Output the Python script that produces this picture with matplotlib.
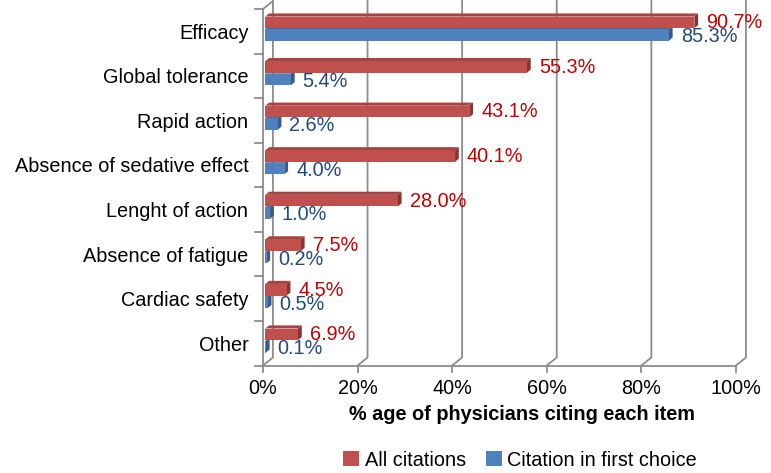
import matplotlib.pyplot as plt
from matplotlib.patches import Polygon, Rectangle

plt.rcParams['font.family'] = ['Liberation Sans', 'DejaVu Sans']

# data
categories = ['Efficacy', 'Global tolerance', 'Rapid action', 'Absence of sedative effect',
              'Lenght of action', 'Absence of fatigue', 'Cardiac safety', 'Other']
all_citations = [90.7, 55.3, 43.1, 40.1, 28.0, 7.5, 4.5, 6.9]
first_choice = [85.3, 5.4, 2.6, 4.0, 1.0, 0.2, 0.5, 0.1]
x_ticks = [0, 20, 40, 60, 80, 100]

red_front, red_top, red_side = '#C0504D', '#A54341', '#8A3432'
blue_front, blue_top, blue_side = '#4F81BD', '#3E6A9E', '#355C8C'
red_text, blue_text = '#C00000', '#1F497D'
grid_col = '#8C8C8C'
fs = 14.3

fig = plt.figure(figsize=(7.71, 4.73), dpi=100)
ax = fig.add_axes([263 / 771, 1 - 365.5 / 473, 473 / 771, 356.5 / 473])
ax.set_xlim(0, 100)
ax.set_ylim(7.5, -0.5)
for s in ax.spines.values():
    s.set_visible(False)

# 3D walls: offset of back wall
dx, dy = 2.1, 0.18

# back gridlines + floor diagonals
for t in x_ticks:
    ax.plot([t, t + dx, t + dx], [7.5, 7.5 - dy, -0.5 - dy], color=grid_col, lw=1.3,
            clip_on=False, zorder=1)
    ax.plot([t, t], [7.5, 7.65], color=grid_col, lw=1.3, clip_on=False, zorder=1)
# front left edge and bottom edge
ax.plot([0, 0, dx], [7.5, -0.5, -0.5 - dy], color=grid_col, lw=1.3, clip_on=False, zorder=1)
ax.plot([0, 100], [7.5, 7.5], color=grid_col, lw=1.3, clip_on=False, zorder=1)
for k in range(9):
    ax.plot([-1.6, 0], [k - 0.5, k - 0.5], color=grid_col, lw=1.3, clip_on=False, zorder=1)


def bar3d(yc, val, front, top, side, z):
    h = 0.26
    s0, ddx, ddy = 0.5, 0.8, 0.07
    y0, y1 = yc - h / 2, yc + h / 2
    x1 = s0 + val
    ax.add_patch(Polygon([(s0, y0), (x1, y0), (x1 + ddx, y0 - ddy), (s0 + ddx, y0 - ddy)],
                         closed=True, fc=top, ec='none', zorder=z, clip_on=False))
    ax.add_patch(Polygon([(x1, y0), (x1 + ddx, y0 - ddy), (x1 + ddx, y1 - ddy), (x1, y1)],
                         closed=True, fc=side, ec='none', zorder=z, clip_on=False))
    ax.add_patch(Rectangle((s0, y0), val, h, fc=front, ec='none', zorder=z, clip_on=False))


for i, (a, b) in enumerate(zip(all_citations, first_choice)):
    bar3d(i + 0.08, b, blue_front, blue_top, blue_side, 3)
    bar3d(i - 0.2, a, red_front, red_top, red_side, 4)
    ax.text(a + 3.0, i - 0.19, f'{a:.1f}%', color=red_text, fontsize=fs,
            va='center', ha='left', zorder=6)
    ax.text(b + 3.0, i + 0.12, f'{b:.1f}%', color=blue_text, fontsize=fs,
            va='center', ha='left', zorder=5)

ax.set_yticks(range(len(categories)))
ax.set_yticklabels(categories, fontsize=fs)
ax.tick_params(axis='y', length=0, pad=10.5)
ax.set_xticks(x_ticks)
ax.set_xticklabels([f'{t}%' for t in x_ticks], fontsize=fs)
ax.tick_params(axis='x', length=0, pad=10)

fig.text(522 / 771, 1 - 414 / 473, '% age of physicians citing each item', fontsize=fs,
         fontweight='bold', ha='center', va='center')

handles = [Rectangle((0, 0), 1, 1, fc=red_front), Rectangle((0, 0), 1, 1, fc=blue_front)]
fig.legend(handles, ['All citations', 'Citation in first choice'], loc='center',
           bbox_to_anchor=(520 / 771, 1 - 460 / 473), ncol=2, frameon=False, fontsize=fs,
           handlelength=0.8, handleheight=0.8, handletextpad=0.3, columnspacing=1.0)

fig.savefig('out.png', dpi=100)
